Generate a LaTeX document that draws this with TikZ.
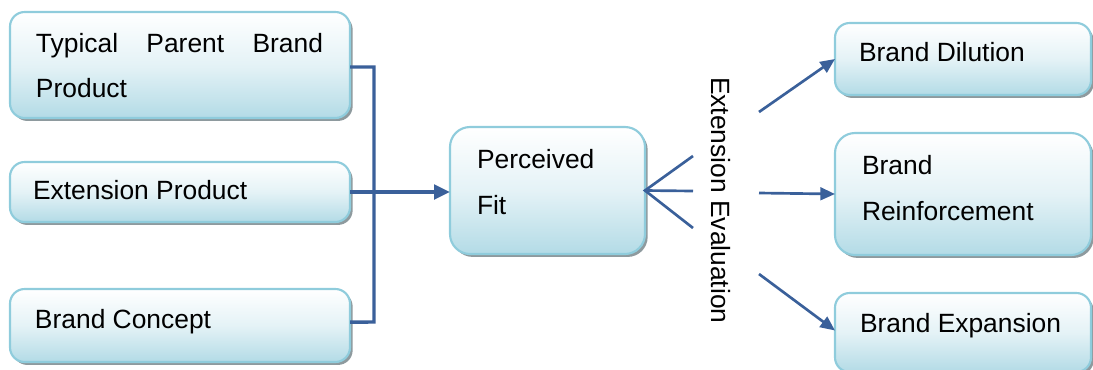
\documentclass[tikz,border=0pt]{standalone}
\usepackage{fontspec}
\setmainfont{Liberation Sans}
\usetikzlibrary{arrows.meta,shadows}
\definecolor{boxedge}{HTML}{8FCCDC}
\definecolor{boxfill}{HTML}{B3DBE6}
\definecolor{shadowgray}{HTML}{8E9A9E}
\definecolor{linkblue}{HTML}{3A609A}
\tikzset{
  box/.style={rectangle, rounded corners=11pt, draw=boxedge, line width=1.6pt,
    top color=white, bottom color=boxfill, middle color=boxfill!35,
    inner sep=0pt, outer sep=0pt,
    drop shadow={shadow xshift=2pt, shadow yshift=-2.2pt, fill=shadowgray, opacity=1}},
  bigbox/.style={box, rounded corners=15pt},
  label/.style={anchor=base west, inner sep=0pt, outer sep=0pt,
    font=\fontsize{19.8}{24}\selectfont},
  conn/.style={draw=linkblue, line width=2.6pt},
  fan/.style={draw=linkblue, line width=2pt},
  bigarrow/.style={draw=linkblue, line width=2.6pt,
    -{Triangle[length=12pt,width=11pt]}},
  smallarrow/.style={draw=linkblue, line width=2pt,
    -{Triangle[length=11pt,width=9.5pt]}}
}
\begin{document}
\begin{tikzpicture}[x=0.75pt,y=-0.75pt]
\useasboundingbox (0,0) rectangle (1093,369);

% input boxes
\node[box, minimum width=255pt, minimum height=79.5pt] (b1) at (180,65) {};
\node[box, minimum width=255pt, minimum height=45pt] (b2) at (180,192) {};
\node[box, minimum width=255pt, minimum height=54.75pt] (b3) at (180,325.5) {};

% central box
\node[bigbox, minimum width=146.25pt, minimum height=95.25pt] (pf) at (547.5,190.5) {};

% outcome boxes
\node[box, minimum width=192pt, minimum height=54pt] (bd) at (963,59) {};
\node[bigbox, minimum width=192pt, minimum height=91.5pt] (br) at (963,194) {};
\node[box, minimum width=192pt, minimum height=59.25pt] (be) at (963,332.5) {};

% box texts
\node[label] (t1a) at (36,52) {\makebox[215.25pt][l]{Typical\hfill Parent\hfill Brand}};
\node[label] (t1b) at (36,97) {Product};
\node[label] (t2) at (33,199) {Extension Product};
\node[label] (t3) at (35,328) {Brand Concept};
\node[label] (tpa) at (477,168) {Perceived};
\node[label] (tpb) at (477,214) {Fit};
\node[label] (td) at (859,61) {Brand Dilution};
\node[label] (tra) at (862,174) {Brand};
\node[label] (trb) at (862,220) {Reinforcement};
\node[label] (te) at (860,332) {Brand Expansion};
\node[label, rotate=-90] (ee) at (711,77) {Extension Evaluation};

% bracket joining the three inputs
\coordinate (jt) at (374,67);
\coordinate (jb) at (374,322);
\draw[conn] ([yshift=-1.5pt]b1.east) -- (jt) -- (jb) -- ([yshift=2.6pt]b3.east);
\draw[bigarrow] (b2.east) -- (b2.east -| pf.west);

% fan out of the central box
\coordinate (f1) at (693,156);
\coordinate (f2) at (693,191);
\coordinate (f3) at (693,228);
\draw[fan] (f1) -- (pf.east) -- (f3);
\draw[fan] (pf.east) -- (f2);

% arrows to the outcomes
\coordinate (a1) at (759,112);
\coordinate (a2) at (759,193);
\coordinate (a3) at (759,274);
\draw[smallarrow] (a1) -- (bd.west);
\draw[smallarrow] (a2) -- (br.west);
\draw[smallarrow] (a3) -- ([yshift=1.5pt]be.west);
\end{tikzpicture}
\end{document}
